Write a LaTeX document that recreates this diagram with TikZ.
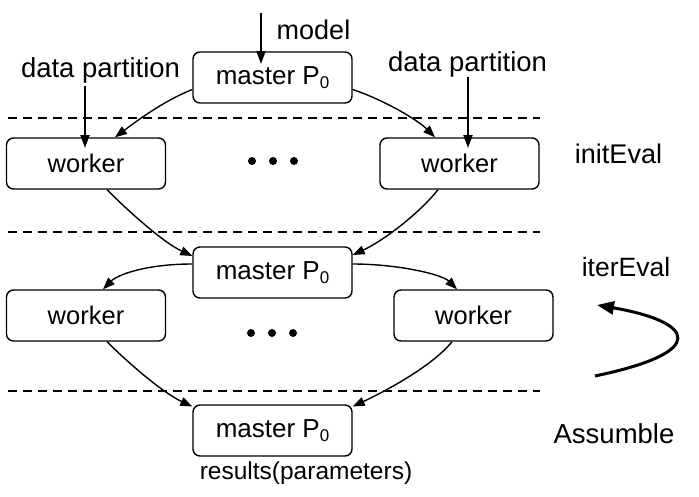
\documentclass[tikz,border=0pt]{standalone}
\usepackage{fontspec}
\setmainfont{Liberation Sans}
\usetikzlibrary{arrows.meta,calc}
\newcommand\mysub[1]{\raisebox{-4pt}{\fontsize{17}{17}\selectfont #1}}
\newcommand\fsz[1]{\fontsize{#1}{#1}\selectfont}
\begin{document}
\begin{tikzpicture}[x=1pt,y=-1pt,
  box/.style={draw, line width=1.4pt, rounded corners=7pt, minimum width=159pt, minimum height=51pt, inner sep=0pt, font=\fsz{26}},
  lbl/.style={inner sep=0pt},
  conn/.style={line width=1.4pt, -{Triangle[length=12pt,width=9pt]}},
  feed/.style={line width=2pt, -{Triangle[length=13pt,width=9pt]}},
  sepline/.style={line width=1.3pt, dash pattern=on 9pt off 6pt},
  dotnode/.style={circle, fill, inner sep=0pt, minimum size=8pt},
  loopar/.style={line width=3pt, -{Triangle[length=17pt,width=13pt]}}]
\useasboundingbox (0,0) rectangle (699,496);

% boxes
\node[box] (tm) at (272.5,77.5) {master P\mysub{0}};
\node[box, font=\fsz{25.5}] (lw1) at (86,163.5) {worker};
\node[box, font=\fsz{25.5}] (rw1) at (459.5,163.5) {worker};
\node[box] (mm) at (272.5,272.5) {master P\mysub{0}};
\node[box, font=\fsz{25.5}] (lw2) at (86,315.5) {worker};
\node[box, font=\fsz{25.5}] (rw2) at (473.5,315.5) {worker};
\node[box] (bm) at (272.5,430.5) {master P\mysub{0}};

% labels
\node[lbl, font=\fsz{27}] (model) at (313.5,29.5) {model};
\node[lbl, font=\fsz{27.5}] (dpl) at (100.5,70) {data partition};
\node[lbl, font=\fsz{27.5}] (dpr) at (467.5,64.5) {data partition};
\node[lbl, font=\fsz{27}] (init) at (618.5,154) {initEval};
\node[lbl, font=\fsz{26.5}] (iter) at (626,267.5) {iterEval};
\node[lbl, font=\fsz{27.5}] (assum) at (614,434) {Assumble};
\node[lbl, font=\fsz{24.5}] (res) at (306,473) {results(parameters)};

% dots
\node[dotnode] (d1) at (252,161) {};
\node[dotnode] (d2) at (273,161) {};
\node[dotnode] (d3) at (294,161) {};
\node[dotnode] (d4) at (251,333) {};
\node[dotnode] (d5) at (272,333) {};
\node[dotnode] (d6) at (293,333) {};

% separators
\coordinate (s1a) at (8,118); \coordinate (s1b) at (540,118);
\coordinate (s2a) at (8,232); \coordinate (s2b) at (540,232);
\coordinate (s3a) at (8,391); \coordinate (s3b) at (540,391);
\draw[sepline] (s1a) -- (s1b);
\draw[sepline] (s2a) -- (s2b);
\draw[sepline] (s3a) -- (s3b);

% feed arrows
\coordinate (m0) at (261,13);   \coordinate (m1) at (261,64);
\coordinate (l0) at (85,86);    \coordinate (l1) at (85,148);
\coordinate (r0) at (468,77);   \coordinate (r1) at (468,148);
\draw[feed] (m0) -- (m1);
\draw[feed] (l0) -- (l1);
\draw[feed] (r0) -- (r1);

% connectors
\draw[conn] ($(tm.west)+(0,12)$) .. controls +(-30,12) and +(20,-15) .. ($(lw1.north)+(29,0)$);
\draw[conn] ($(tm.east)+(0,12)$) .. controls +(30,10) and +(-18,-18) .. ($(rw1.north)+(-24.5,0)$);
\draw[conn] ($(lw1.south)+(21,0)$) .. controls +(20,20) and +(-30,-14) .. ($(mm.west)+(0,-16.5)$);
\draw[conn] ($(rw1.south)+(-21.5,0)$) .. controls +(-20,25) and +(30,-14) .. ($(mm.east)+(0,-17.5)$);
\draw[conn] ($(mm.west)+(0,-8.5)$) .. controls +(-45,0) and +(15,-15) .. ($(lw2.north)+(17,0)$);
\draw[conn] ($(mm.east)+(0,-8.5)$) .. controls +(45,0) and +(-15,-15) .. ($(rw2.north)+(-16.5,0)$);
\draw[conn] ($(lw2.south)+(21,0)$) .. controls +(20,20) and +(-30,-14) .. ($(bm.west)+(0,-24)$);
\draw[conn] ($(rw2.south)+(-21.5,0)$) .. controls +(-20,25) and +(30,-14) .. ($(bm.east)+(0,-24)$);

% loop arrow
\coordinate (c0) at (595,376);
\coordinate (c1) at (597,305);
\draw[loopar] (c0) .. controls (710,352) and (695,322) .. (c1);
\end{tikzpicture}
\end{document}
